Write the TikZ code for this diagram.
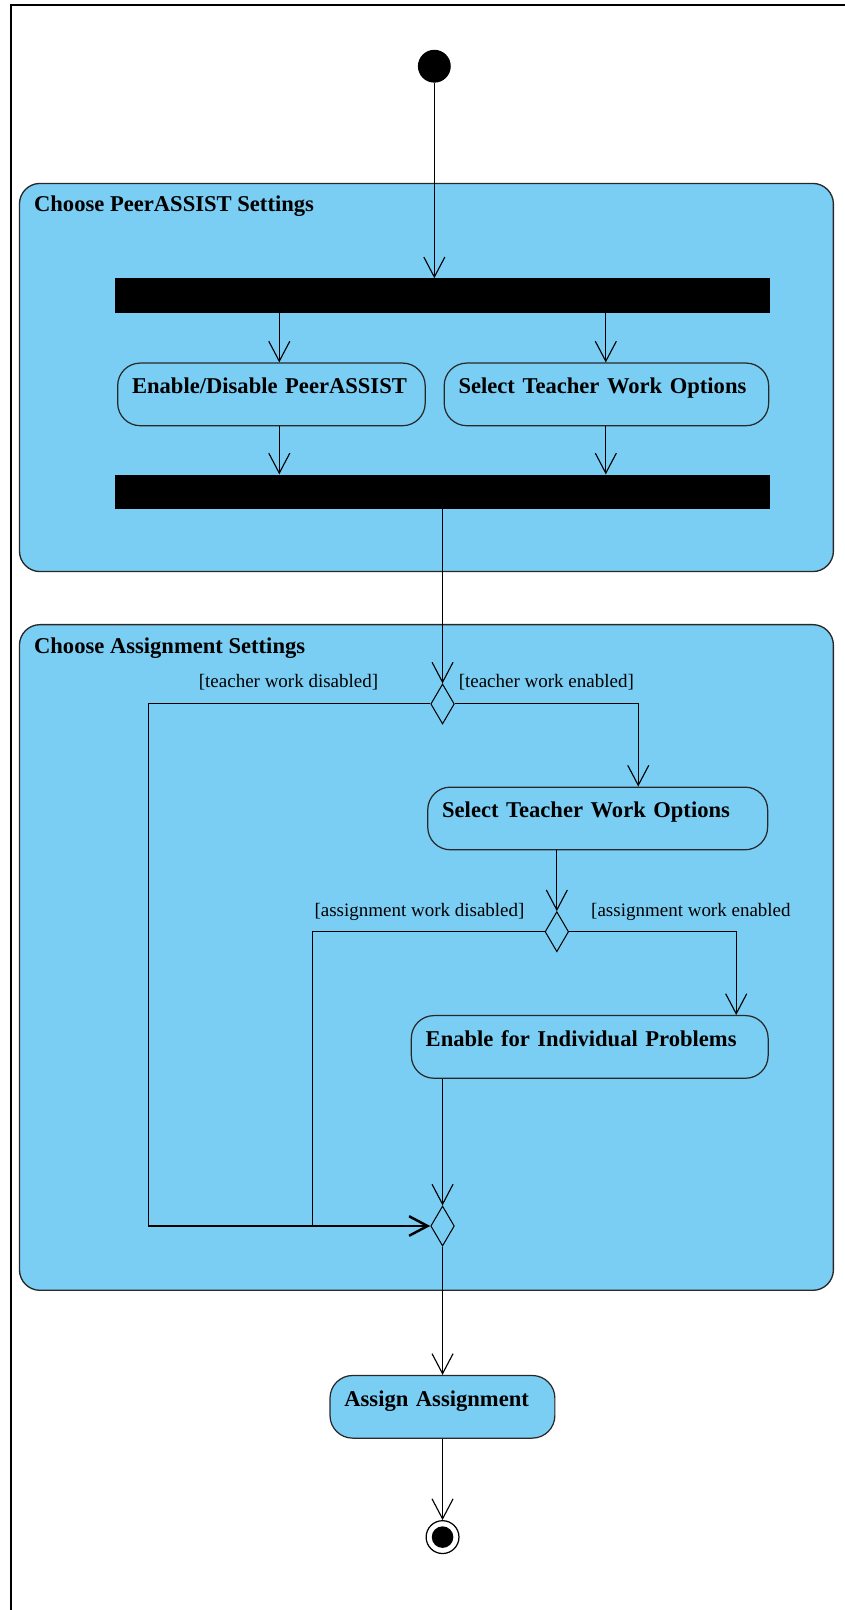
\documentclass[tikz,border=0pt]{standalone}
\usepackage{fontspec}
\setmainfont{Liberation Serif}
\usetikzlibrary{arrows.meta,shapes.geometric,calc}
\definecolor{actblue}{RGB}{122,206,244}
\definecolor{edgegray}{RGB}{40,40,40}
\begin{document}
\begin{tikzpicture}[x=1pt,y=-1pt,
 grp/.style={draw=edgegray, fill=actblue, line width=1.3pt, rounded corners=20pt, anchor=north west, inner sep=0},
 grptitle/.style={anchor=base west, font=\fontsize{22}{24}\selectfont\bfseries, inner sep=0},
 act/.style={draw=edgegray, fill=actblue, line width=1.2pt, rounded corners=22pt, anchor=north west, inner xsep=14pt, inner ysep=0pt, text height=30pt, text depth=31pt, align=left, font=\fontsize{22}{24}\selectfont\bfseries},
 bar/.style={fill=black, draw=none, anchor=north west, inner sep=0},
 dec/.style={diamond, draw=black, fill=actblue, line width=1pt, minimum width=23pt, minimum height=39pt, inner sep=0},
 guard/.style={font=\fontsize{18.5}{20}\selectfont, inner sep=0},
 flow/.style={draw=black, line width=1pt, -{Straight Barb[length=19.5pt,width=20.5pt,line width=1.1pt]}},
 flowbold/.style={draw=black, line width=1pt, -{Straight Barb[length=18pt,width=19pt,line width=2.4pt]}},
 plainline/.style={draw=black, line width=1pt},
]
\useasboundingbox (0,0) rectangle (822,1568);
\fill[white] (0,0) rectangle (822,1568);
% outer frame
\draw[line width=1.8pt] (10.5,1600) -- (10.5,4.9) -- (860,4.9);

% groups
\node[grp, minimum width=792.7pt, minimum height=378pt] (grpA) at (18.3,178) {};
\node[grptitle] (grpAt) at (33,206) {Choose PeerASSIST Settings};
\node[grp, minimum width=792.7pt, minimum height=648.3pt] (grpB) at (18.3,607.7) {};
\node[grptitle] (grpBt) at (33,636) {Choose Assignment Settings};

% start
\node[circle, fill=black, minimum size=32pt, inner sep=0] (start) at (423,64.5) {};

% bars
\node[bar, minimum width=638pt, minimum height=33.5pt] (bar1) at (111.5,271) {};
\node[bar, minimum width=638pt, minimum height=33.5pt] (bar2) at (111.5,462) {};

% actions
\node[act, text width=271.5pt] (a1) at (114,353) {Enable/Disable PeerASSIST};
\node[act, text width=288pt] (a2) at (432,353) {Select Teacher Work Options};
\node[act, text width=303pt] (a3) at (416,766) {Select Teacher Work Options};
\node[act, text width=319.5pt] (a4) at (400,988.5) {Enable for Individual Problems};
\node[act, text width=191pt] (a5) at (320.8,1339) {Assign Assignment};

% decisions
\node[dec] (d1) at (431,685.6) {};
\node[dec] (d2) at (542.3,907.4) {};
\node[dec] (merge) at (431,1194) {};

% final
\node[circle, draw=black, fill=white, line width=1.2pt, minimum size=32pt, inner sep=0] (final) at (431,1497) {};
\node[circle, fill=black, minimum size=21pt, inner sep=0] (finalin) at (final.center) {};

% guards
\node[guard, anchor=base east] (gl1) at (368.5,670) {[teacher work disabled]};
\node[guard, anchor=base west] (gr1) at (446.6,670) {[teacher work enabled]};
\node[guard, anchor=base east] (gl2) at (511,893) {[assignment work disabled]};
\node[guard, anchor=base west] (gr2) at (575.6,893) {[assignment work enabled};

% helper columns
\coordinate (c1) at (272,0);
\coordinate (c2) at (590,0);
\coordinate (xl) at (144.7,0);
\coordinate (xr1) at (621.6,0);
\coordinate (xl2) at (304,0);
\coordinate (xr2) at (717,0);

% connectors
\draw[flow] (start.south) -- (start.south |- bar1.north);
\draw[flow] (bar1.south -| c1) -- (a1.north -| c1);
\draw[flow] (bar1.south -| c2) -- (a2.north -| c2);
\draw[flow] (a1.south -| c1) -- (bar2.north -| c1);
\draw[flow] (a2.south -| c2) -- (bar2.north -| c2);
\draw[flow] (bar2.south -| d1) -- (d1.north);
\draw[flowbold] (d1.west) -- (d1.west -| xl) -- (merge.west -| xl) -- (merge.west);
\draw[flow] (d1.east) -- (d1.east -| xr1) -- (a3.north -| xr1);
\draw[flow] (a3.south -| d2) -- (d2.north);
\draw[plainline] (d2.west) -- (d2.west -| xl2) -- (merge.west -| xl2);
\draw[flow] (d2.east) -- (d2.east -| xr2) -- (a4.north -| xr2);
\draw[flow] (a4.south -| merge) -- (merge.north);
\draw[flow] (merge.south) -- (a5.north -| merge);
\draw[flow] (a5.south -| final) -- (final.north);
\end{tikzpicture}
\end{document}
